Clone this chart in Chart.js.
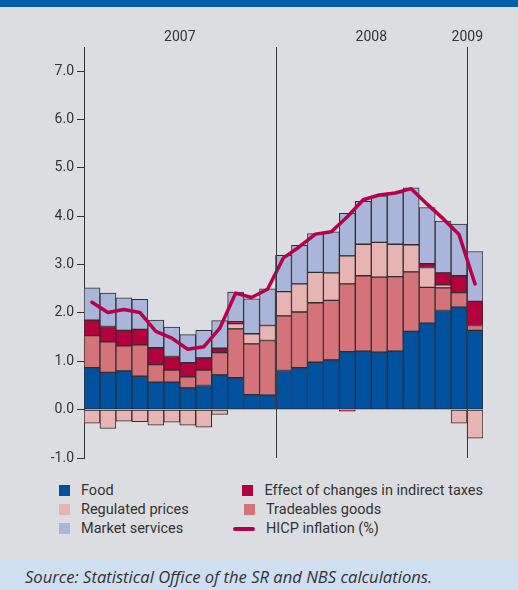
<!DOCTYPE html>
<html>
<head>
<meta charset="utf-8">
<script src="https://cdn.jsdelivr.net/npm/chart.js@4.4.1/dist/chart.umd.min.js"></script>
<style>
    body { margin: 0; width: 518px; height: 590px; overflow: hidden; background: #dcdde0; position: relative; font-family: Roboto, sans-serif; color: #333; }
    #cabecalho { position: absolute; left: 0; top: 0; width: 518px; height: 7px; background: #0060ab; }
    #area_grafico { position: absolute; left: 0; top: 0; width: 518px; height: 470px; }
    #legenda { position: absolute; left: 48px; top: 481px; display: grid; grid-template-columns: 185px 250px; grid-auto-rows: 19px; font-size: 14.5px; white-space: nowrap; }
    .item { display: flex; align-items: center; }
    .amostra { width: 22px; display: flex; justify-content: flex-end; margin-right: 11px; }
    .quadrado { width: 11px; height: 11px; }
    .linha { width: 22px; height: 4px; border-radius: 2px; }
    #fonte { position: absolute; left: 0; top: 560px; width: 518px; height: 30px; background: #cfdff0; }
    #fonte span { position: absolute; left: 25px; top: 5px; font-family: 'Open Sans', sans-serif; font-style: italic; font-size: 16.6px; color: #333; white-space: nowrap; }
</style>
</head>
<body>
<div id="cabecalho"></div>
<div id="area_grafico"><canvas id="canvas_grafico" width="518" height="470"></canvas></div>
<div id="legenda"></div>
<div id="fonte"><span>Source: Statistical Office of the SR and NBS calculations.</span></div>
<script>
// meses (jan 2007 - jan 2009)
const meses = ['Jan 2007', 'Feb 2007', 'Mar 2007', 'Apr 2007', 'May 2007', 'Jun 2007',
    'Jul 2007', 'Aug 2007', 'Sep 2007', 'Oct 2007', 'Nov 2007', 'Dec 2007',
    'Jan 2008', 'Feb 2008', 'Mar 2008', 'Apr 2008', 'May 2008', 'Jun 2008',
    'Jul 2008', 'Aug 2008', 'Sep 2008', 'Oct 2008', 'Nov 2008', 'Dec 2008',
    'Jan 2009'];

const food = [0.87, 0.77, 0.80, 0.69, 0.57, 0.57, 0.45, 0.50, 0.72, 0.66, 0.31, 0.30,
    0.81, 0.87, 0.98, 1.03, 1.20, 1.21, 1.19, 1.21, 1.62, 1.79, 2.05, 2.12, 1.64];
const tradeables = [0.66, 0.63, 0.52, 0.65, 0.36, 0.25, 0.23, 0.32, 0.46, 1.01, 1.05, 1.13,
    1.13, 1.15, 1.23, 1.23, 1.40, 1.56, 1.55, 1.54, 1.23, 0.74, 0.47, 0.30, 0.10];
const regulated = [-0.28, -0.39, -0.24, -0.25, -0.32, -0.26, -0.32, -0.36, -0.10, 0.11, 0.21, 0.31,
    0.50, 0.58, 0.63, 0.57, 0.58, 0.65, 0.72, 0.67, 0.56, 0.41, 0.06, -0.28, -0.59];
const taxes = [0.32, 0.32, 0.32, 0.32, 0.35, 0.28, 0.29, 0.25, 0.09, 0.04, 0, 0,
    0, 0, 0, 0, -0.03, 0, 0, 0, 0, 0.08, 0.25, 0.35, 0.50];
const market = [0.67, 0.69, 0.67, 0.62, 0.57, 0.61, 0.58, 0.57, 0.57, 0.61, 0.72, 0.76,
    0.75, 0.80, 0.80, 0.85, 0.88, 0.89, 0.96, 1.07, 1.18, 1.16, 1.07, 1.07, 1.03];
const hicp = [2.22, 2.01, 2.07, 2.01, 1.62, 1.48, 1.25, 1.30, 1.68, 2.41, 2.32, 2.49,
    3.14, 3.37, 3.63, 3.68, 3.99, 4.34, 4.44, 4.48, 4.57, 4.25, 3.95, 3.62, 2.60];

const yTicks = [-1, 0, 1, 2, 3, 4, 5, 6, 7];

const cores = {
    food: '#00519e',
    regulated: '#e8b3b3',
    market: '#aab5da',
    taxes: '#b4003c',
    tradeables: '#d4737a',
    hicp: '#b8004a'
};

// ordem da legenda (duas colunas, como no original)
const legendaItens = [
    { text: 'Food', color: cores.food },
    { text: 'Effect of changes in indirect taxes', color: cores.taxes },
    { text: 'Regulated prices', color: cores.regulated },
    { text: 'Tradeables goods', color: cores.tradeables },
    { text: 'Market services', color: cores.market },
    { text: 'HICP inflation (%)', color: cores.hicp, line: true }
];

// anos no topo + linhas separadoras
const anosPlugin = {
    id: 'anos',
    afterDatasetsDraw(chart) {
        const ctx = chart.ctx;
        const area = chart.chartArea;
        const x = chart.scales.x;
        const meia = (x.getPixelForValue(1) - x.getPixelForValue(0)) / 2;
        const anos = [];
        meses.forEach((m, i) => {
            const ano = m.split(' ')[1];
            let grupo = anos.find(a => a.ano === ano);
            if (!grupo) {
                grupo = { ano: ano, primeiro: i, ultimo: i };
                anos.push(grupo);
            }
            grupo.ultimo = i;
        });
        ctx.save();
        ctx.font = '14px Roboto, sans-serif';
        ctx.fillStyle = '#333';
        ctx.textAlign = 'center';
        ctx.textBaseline = 'middle';
        anos.forEach((a, k) => {
            const esq = x.getPixelForValue(a.primeiro) - meia;
            const dir = x.getPixelForValue(a.ultimo) + meia;
            const w = ctx.measureText(a.ano).width;
            let centro = (esq + dir) / 2;
            centro = Math.min(centro, area.right - w / 2);
            ctx.fillText(a.ano, centro, area.top - 10);
            if (k > 0) {
                ctx.strokeStyle = '#3a3a3a';
                ctx.lineWidth = 1;
                ctx.beginPath();
                ctx.moveTo(Math.round(esq) + 0.5, area.top);
                ctx.lineTo(Math.round(esq) + 0.5, area.bottom);
                ctx.stroke();
            }
        });
        ctx.restore();
    }
};

function barra(label, data, cor) {
    return {
        type: 'bar',
        label: label,
        data: data,
        backgroundColor: cor,
        borderColor: '#2e2e2e',
        borderWidth: 1,
        borderSkipped: false,
        barPercentage: 1,
        categoryPercentage: 1
    };
}

const ctx = document.getElementById('canvas_grafico').getContext('2d');
new Chart(ctx, {
    data: {
        labels: meses,
        datasets: [
            {
                type: 'line',
                label: 'HICP inflation (%)',
                data: hicp,
                borderColor: cores.hicp,
                borderWidth: 3.5,
                pointRadius: 0,
                tension: 0,
                borderJoinStyle: 'round',
                borderCapStyle: 'round'
            },
            barra('Food', food, cores.food),
            barra('Tradeables goods', tradeables, cores.tradeables),
            barra('Regulated prices', regulated, cores.regulated),
            barra('Effect of changes in indirect taxes', taxes, cores.taxes),
            barra('Market services', market, cores.market)
        ]
    },
    options: {
        responsive: false,
        animation: false,
        devicePixelRatio: 1,
        layout: {
            padding: { top: 47, right: 35, bottom: 12, left: 0 }
        },
        scales: {
            x: {
                display: false,
                stacked: true,
                offset: true
            },
            y: {
                stacked: true,
                min: -1,
                max: 7.5,
                afterBuildTicks: function(axis) {
                    axis.ticks = yTicks.map(v => ({ value: v }));
                },
                afterFit: function(axis) {
                    axis.width = 84;
                },
                ticks: {
                    color: '#333',
                    padding: 3,
                    font: { family: 'Roboto, sans-serif', size: 14 },
                    callback: function(value) {
                        return value.toFixed(1);
                    }
                },
                grid: {
                    drawOnChartArea: false,
                    drawTicks: true,
                    tickLength: 7,
                    color: '#333'
                },
                border: {
                    display: true,
                    color: '#333',
                    width: 1
                }
            }
        },
        plugins: {
            legend: { display: false },
            tooltip: { enabled: false }
        }
    },
    plugins: [anosPlugin]
});

// legenda em html
const legenda = document.getElementById('legenda');
legendaItens.forEach(item => {
    const div = document.createElement('div');
    div.className = 'item';
    const amostra = document.createElement('span');
    amostra.className = 'amostra';
    const marca = document.createElement('span');
    marca.className = item.line ? 'linha' : 'quadrado';
    marca.style.background = item.color;
    amostra.appendChild(marca);
    const texto = document.createElement('span');
    texto.textContent = item.text;
    div.appendChild(amostra);
    div.appendChild(texto);
    legenda.appendChild(div);
});
</script>
</body>
</html>
